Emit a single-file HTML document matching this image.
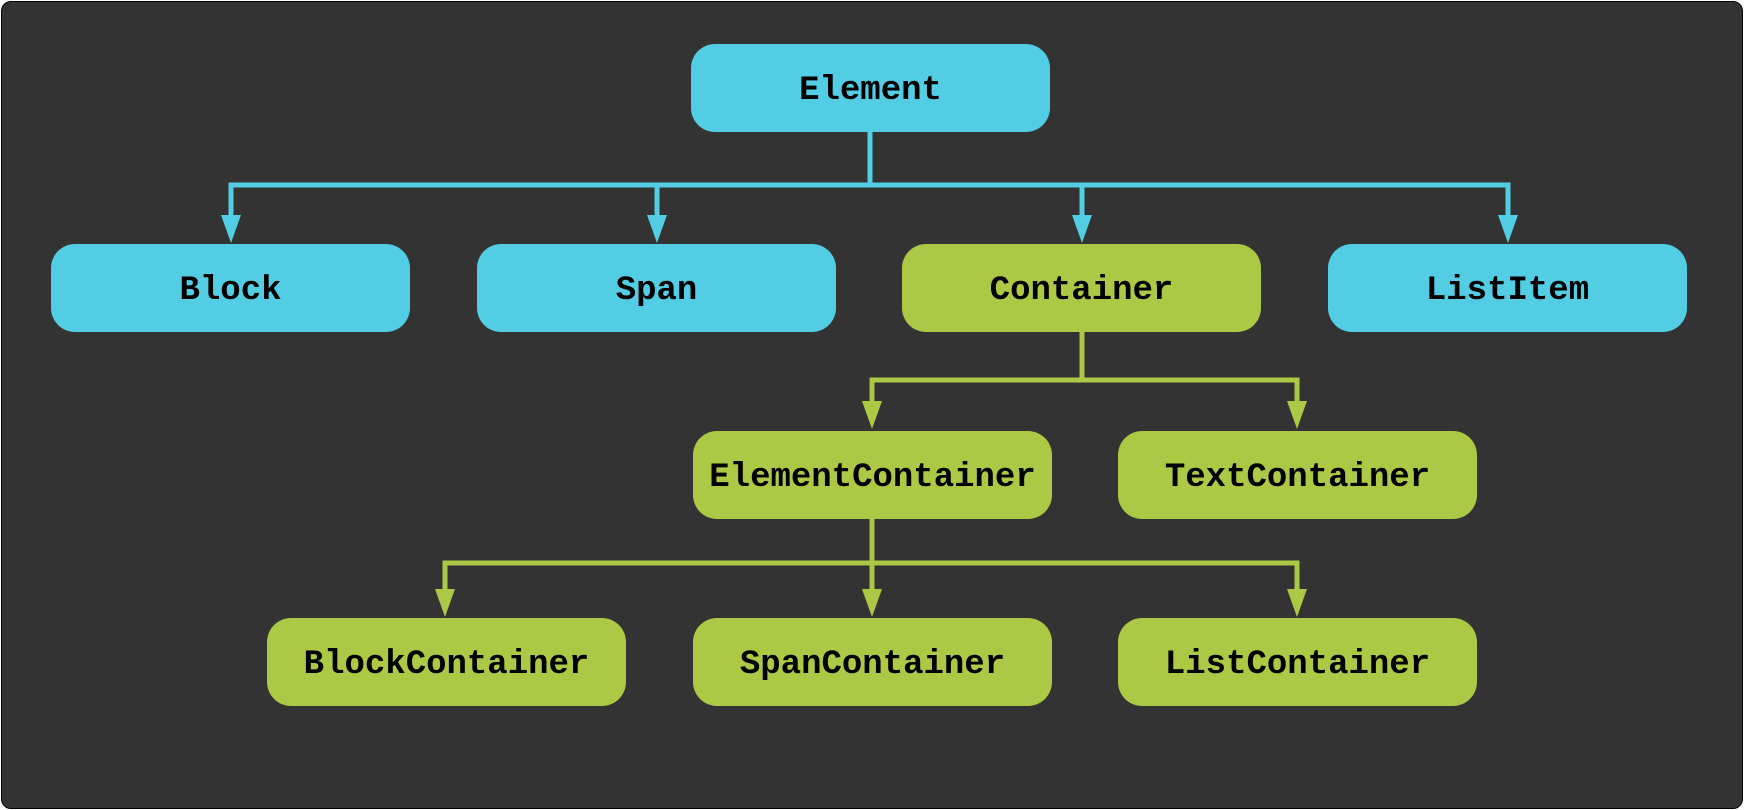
<!DOCTYPE html>
<html><head><meta charset="utf-8"><style>
html,body{margin:0;padding:0;background:#fff;}
.wrap{position:relative;width:1744px;height:810px;}
.bg{position:absolute;left:1px;top:1px;width:1740px;height:806px;background:#333;border:1px solid #000;border-radius:10px;}
.n{position:absolute;height:82px;padding-top:6px;width:359px;border-radius:24px;display:flex;align-items:center;justify-content:center;font-family:"Liberation Mono",monospace;font-weight:bold;font-size:34px;color:#000;}
.c{background:#52cde4;}
.g{background:#abc944;}
svg{position:absolute;left:0;top:0;}
</style></head><body><div class="wrap">
<div class="bg"></div>
<svg width="1744" height="810">
<g stroke="#52cde4" stroke-width="5" fill="none">
<line x1="870" y1="131" x2="870" y2="185"/>
<polyline points="231,222 231,185 1508,185 1508,222"/>
<line x1="657" y1="185" x2="657" y2="222"/>
<line x1="1082" y1="185" x2="1082" y2="222"/>
</g>
<g fill="#52cde4">
<polygon points="221,215 241,215 231,243"/>
<polygon points="647,215 667,215 657,243"/>
<polygon points="1072,215 1092,215 1082,243"/>
<polygon points="1498,215 1518,215 1508,243"/>
</g>
<g stroke="#abc944" stroke-width="5" fill="none">
<line x1="1082" y1="332" x2="1082" y2="380"/>
<polyline points="872,408 872,380 1297,380 1297,408"/>
<line x1="872" y1="519" x2="872" y2="596"/>
<polyline points="445,596 445,563 1297,563 1297,596"/>
</g>
<g fill="#abc944">
<polygon points="862,401 882,401 872,429"/>
<polygon points="1287,401 1307,401 1297,429"/>
<polygon points="435,589 455,589 445,617"/>
<polygon points="862,589 882,589 872,617"/>
<polygon points="1287,589 1307,589 1297,617"/>
</g>
</svg>
<div class="n c" style="left:691px;top:44px;">Element</div>
<div class="n c" style="left:51px;top:244px;">Block</div>
<div class="n c" style="left:477px;top:244px;">Span</div>
<div class="n g" style="left:902px;top:244px;">Container</div>
<div class="n c" style="left:1328px;top:244px;">ListItem</div>
<div class="n g" style="left:693px;top:431px;">ElementContainer</div>
<div class="n g" style="left:1118px;top:431px;">TextContainer</div>
<div class="n g" style="left:267px;top:618px;">BlockContainer</div>
<div class="n g" style="left:693px;top:618px;">SpanContainer</div>
<div class="n g" style="left:1118px;top:618px;">ListContainer</div>
</div></body></html>
